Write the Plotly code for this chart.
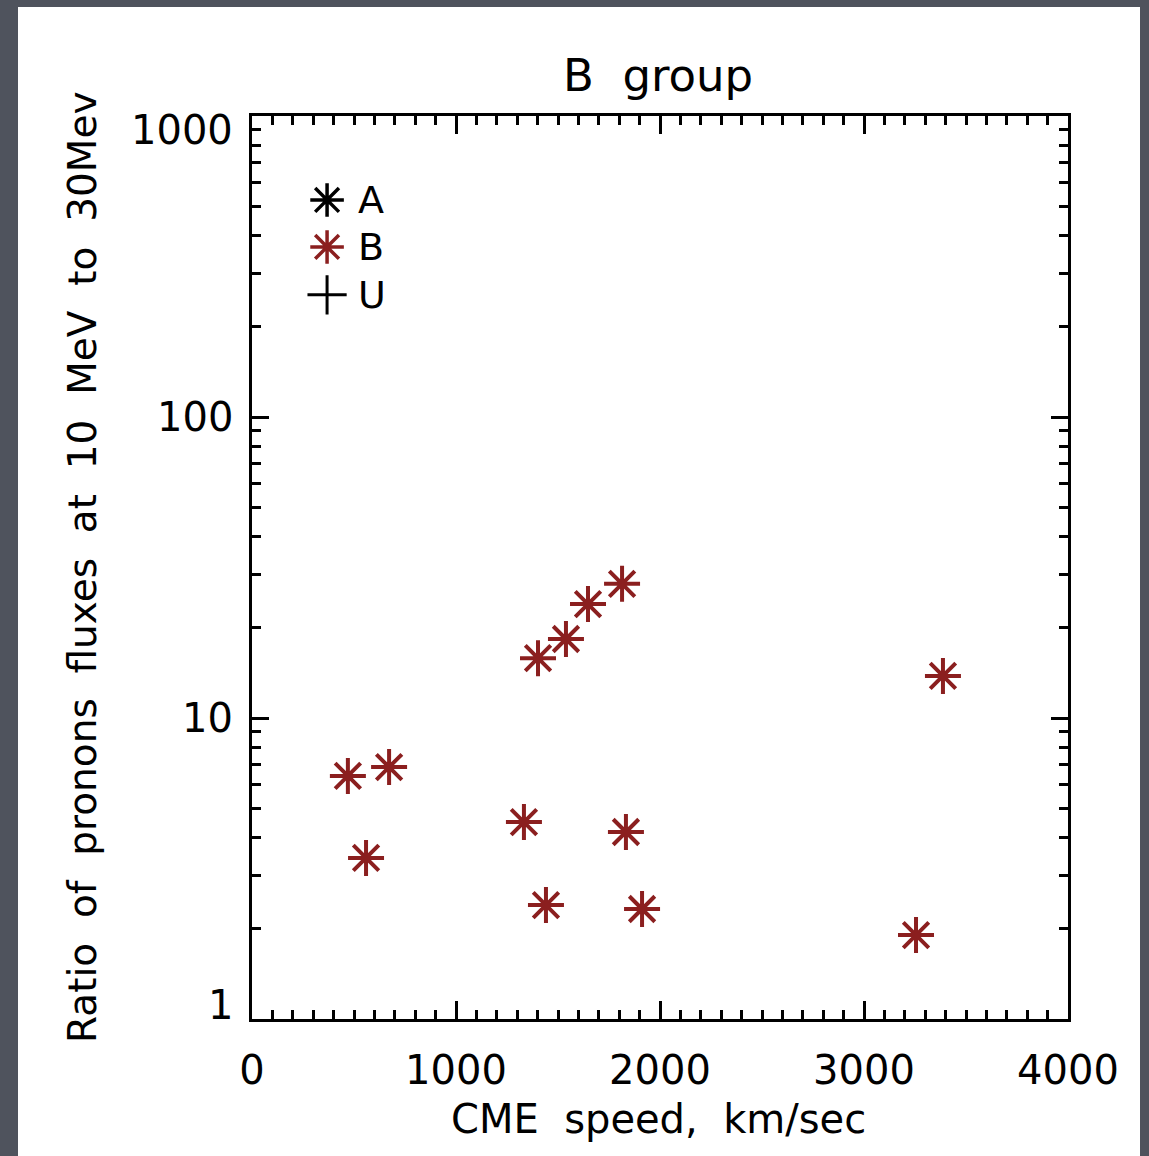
import math
import plotly.graph_objects as go

# CME speed (km/s) and 10/30 MeV proton flux ratio, B-group events
speed_b = [470, 672, 559, 1333, 1441, 1402, 1539, 1647, 1814, 1833, 1912, 3255, 3387]
ratio_b = [6.42, 6.87, 3.43, 4.51, 2.39, 15.8, 18.3, 23.9, 27.9, 4.18, 2.32, 1.90, 13.8]

x_ticks = [0, 1000, 2000, 3000, 4000]
y_ticks = [1, 10, 100, 1000]

legend_labels = ["A", "B", "U"]
legend_symbols = ["asterisk-open", "asterisk-open", "cross-thin-open"]
legend_colors = ["black", "#8b1f1f", "black"]
legend_widths = [3.5, 3.5, 3]
legend_y = [0.907, 0.855, 0.802]

W, H = 1149, 1156
L, R, T, B = 252, 1068, 116, 1019
PW, PH = R - L, B - T

FONT = "DejaVu Sans, Verdana, sans-serif"
RED = "#8b1f1f"

fig = go.Figure()

fig.add_trace(go.Scatter(
    x=speed_b, y=ratio_b, mode="markers",
    marker=dict(symbol="asterisk-open", size=30, color=RED,
                line=dict(width=4, color=RED)),
    showlegend=False, hoverinfo="x+y",
))

# hand-placed key in the upper-left corner
for lab, sym, col, lw, yy in zip(legend_labels, legend_symbols, legend_colors,
                                 legend_widths, legend_y):
    fig.add_trace(go.Scatter(
        x=[0.092], y=[yy], xaxis="x2", yaxis="y2", mode="markers",
        marker=dict(symbol=sym, size=28, color=col, line=dict(width=lw, color=col)),
        showlegend=False, hoverinfo="skip",
    ))
    fig.add_annotation(x=0.128, y=yy, xref="x2", yref="y2", text=lab,
                       showarrow=False, xanchor="left", yanchor="middle",
                       font=dict(family=FONT, size=38, color="black"))

# y tick labels (log axis: annotation y is given as log10); the end labels
# sit inside the axis span
for v in y_ticks:
    if v == 1:
        ya, shift = "bottom", -11
    elif v == 1000:
        ya, shift = "top", 11
    else:
        ya, shift = "middle", 0
    fig.add_annotation(x=(235 - L) / PW, xref="paper", y=math.log10(v), yref="y",
                       text=str(v), showarrow=False, xanchor="right", yanchor=ya,
                       yshift=shift,
                       font=dict(family=FONT, size=40, color="black"))

# axis titles and chart title
fig.add_annotation(x=(82 - L) / PW, xref="paper", y=(B - 567) / PH, yref="paper",
                   text="Ratio  of  pronons  fluxes  at  10  MeV  to  30Mev",
                   textangle=-90, showarrow=False, xanchor="center", yanchor="middle",
                   font=dict(family=FONT, size=39, color="black"))
fig.add_annotation(x=(658 - L) / PW, xref="paper", y=(B - 1119) / PH, yref="paper",
                   text="CME  speed,  km/sec", showarrow=False,
                   xanchor="center", yanchor="middle",
                   font=dict(family=FONT, size=40, color="black"))
fig.add_annotation(x=(658 - L) / PW, xref="paper", y=(B - 75) / PH, yref="paper",
                   text="B  group", showarrow=False,
                   xanchor="center", yanchor="middle",
                   font=dict(family=FONT, size=45, color="black"))

fig.update_layout(
    width=W, height=H,
    margin=dict(l=L, r=W - R, t=T, b=H - B),
    paper_bgcolor="#4f535d",
    plot_bgcolor="white",
    font=dict(family=FONT, color="black", size=40),
    xaxis=dict(
        range=[0, 4000], tickvals=x_ticks, ticktext=[str(v) for v in x_ticks],
        ticks="inside", ticklen=18, tickwidth=3, tickcolor="black",
        showline=True, linewidth=3, linecolor="black", mirror="ticks",
        showgrid=False, zeroline=False,
        minor=dict(dtick=100, ticks="inside", ticklen=9, tickwidth=3,
                   tickcolor="black", showgrid=False),
        tickfont=dict(family=FONT, size=40), ticklabelstandoff=14,
    ),
    yaxis=dict(
        type="log", range=[0, 3], tickvals=y_ticks, showticklabels=False,
        ticks="inside", ticklen=17, tickwidth=3, tickcolor="black",
        showline=True, linewidth=3, linecolor="black", mirror="ticks",
        showgrid=False, zeroline=False,
        minor=dict(dtick="D1", ticks="inside", ticklen=9, tickwidth=3,
                   tickcolor="black", showgrid=False),
    ),
    xaxis2=dict(range=[0, 1], overlaying="x", visible=False),
    yaxis2=dict(range=[0, 1], overlaying="y", visible=False),
    shapes=[dict(type="rect", xref="paper", yref="paper", layer="below",
                 x0=(18 - L) / PW, x1=(1140 - L) / PW,
                 y0=(B - H) / PH - 0.01, y1=(B - 7) / PH,
                 fillcolor="white", line=dict(width=0))],
)

fig.write_html("out.html")
